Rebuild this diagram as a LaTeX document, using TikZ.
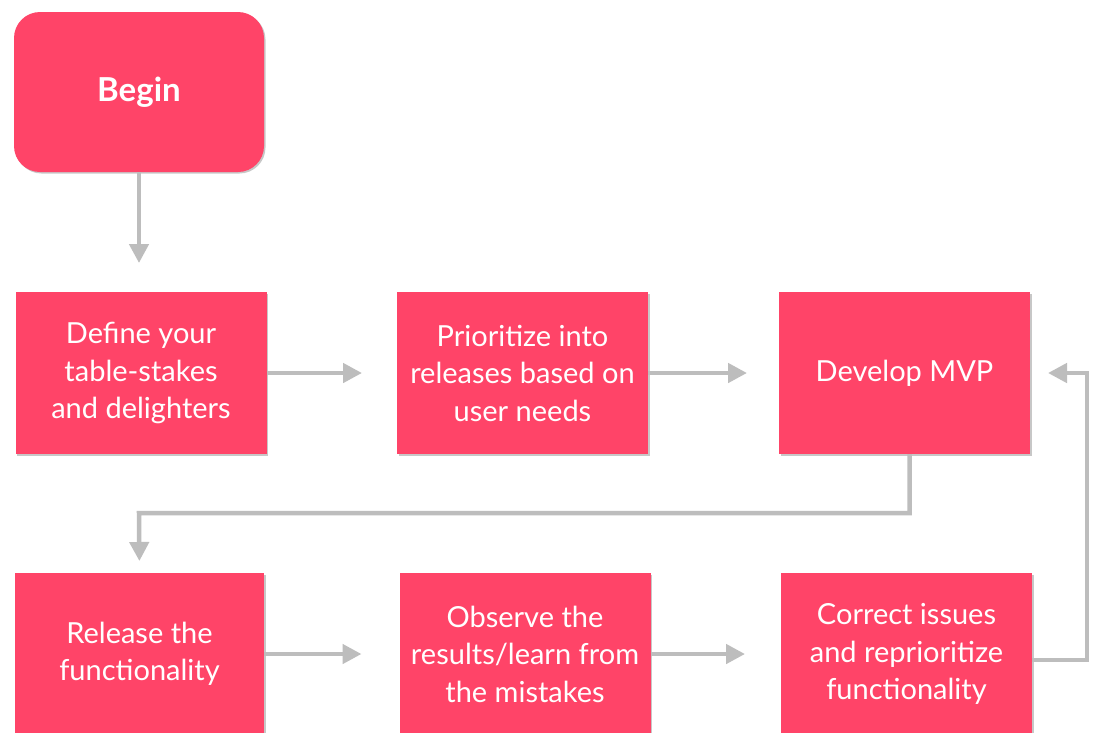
\documentclass[tikz,border=0pt]{standalone}
\usepackage{fontspec}
\setmainfont{Lato}
\usetikzlibrary{arrows.meta,shadows}
\definecolor{boxpink}{HTML}{FF4468}
\definecolor{linegray}{HTML}{BDBDBD}
\tikzset{
  stepbox/.style={rectangle, fill=boxpink, text=white, align=center,
    minimum width=251pt, minimum height=162pt, inner sep=0pt, outer sep=0pt,
    font=\fontsize{29}{37.5}\selectfont,
    drop shadow={shadow xshift=1.5pt, shadow yshift=-1.5pt, fill=black, opacity=0.22}},
  startbox/.style={stepbox, rounded corners=26pt, minimum width=250pt, minimum height=160pt,
    font=\bfseries\fontsize{33}{38}\selectfont},
  flow/.style={draw=linegray, line width=4.5pt, -{Triangle[length=19pt, width=19pt]}},
}
\begin{document}
\begin{tikzpicture}[x=1pt, y=-1pt]
  \clip (0,0) rectangle (1094,732);
  \fill[white] (0,0) rectangle (1094,732);

  % start and first row
  \node[startbox] (begin) at (139,92) {Begin};
  \node[stepbox] (define) at (141,373) {Define your\\table-stakes\\and delighters};
  \node[stepbox] (prior) at (522.5,373) {Prioritize into\\releases based on\\user needs};
  \node[stepbox] (mvp) at (904.5,373) {Develop MVP};

  % second row
  \node[stepbox, minimum width=249pt] (release) at (139.5,654) {Release the\\functionality};
  \node[stepbox] (observe) at (525,654) {Observe the\\results/learn from\\the mistakes};
  \node[stepbox] (correct) at (906.5,654) {Correct issues\\and reprioritize\\functionality};

  % connectors
  \draw[flow, shorten >=29pt] (begin.south) -- (begin.south |- define.north);
  \draw[flow, shorten >=35pt] (define) -- (prior);
  \draw[flow, shorten >=32pt] (prior) -- (mvp);
  \draw[flow, shorten >=12pt] ([xshift=5pt]mvp.south) |- (139,513) -- (release.north);
  \draw[flow, shorten >=38pt] (release) -- (observe);
  \draw[flow, shorten >=36pt] (observe) -- (correct);
  \draw[flow, shorten >=18pt] ([yshift=-6pt]correct.east) -| (1087,373) -- (mvp.east);
\end{tikzpicture}
\end{document}
